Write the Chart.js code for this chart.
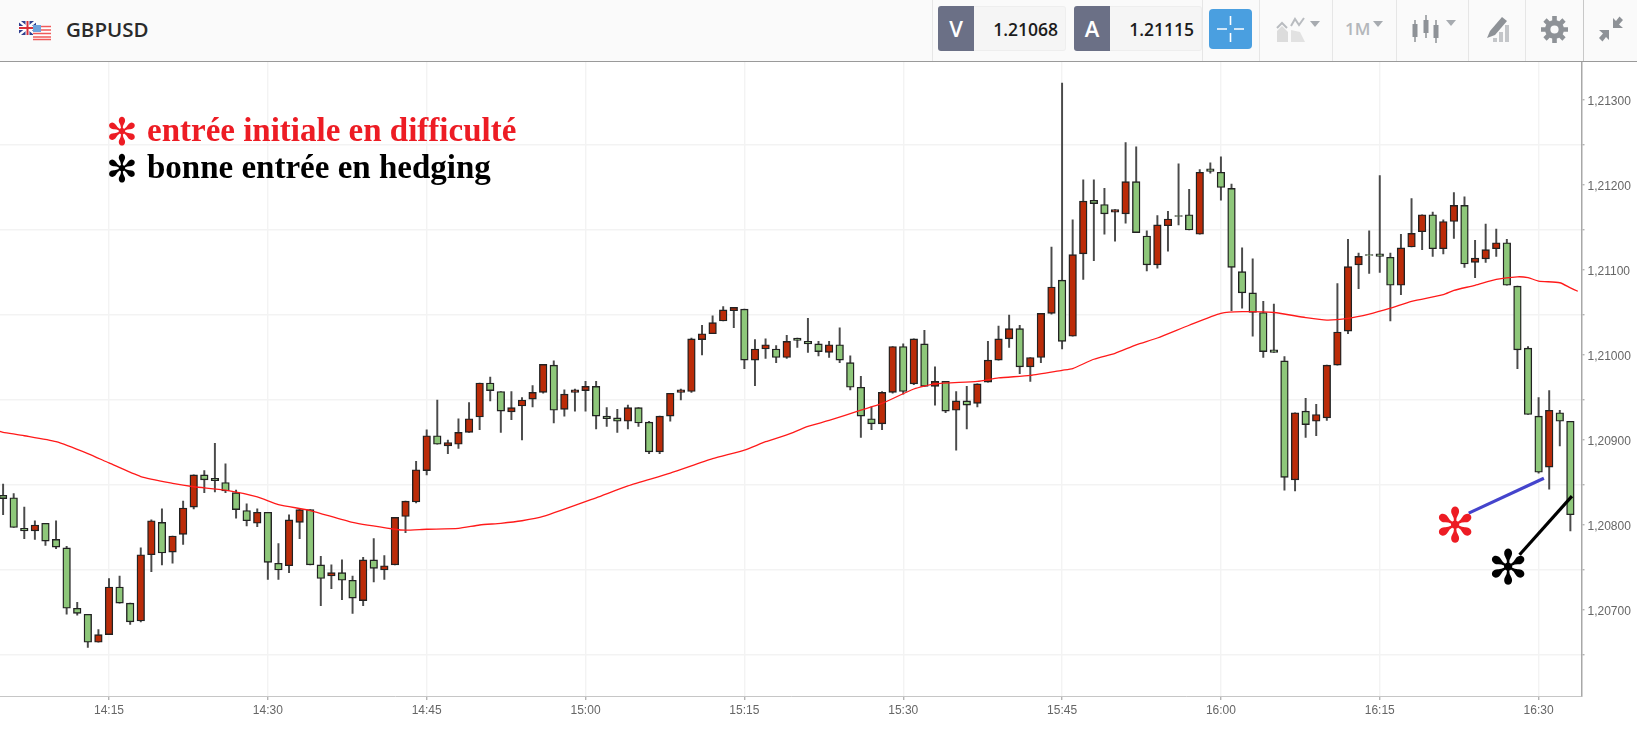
<!DOCTYPE html>
<html lang="fr">
<head>
<meta charset="utf-8">
<title>GBPUSD</title>
<script src="https://cdn.jsdelivr.net/npm/chart.js@4"></script>
<style>
    html, body { margin: 0; padding: 0; background: #fff; overflow: hidden; }
    #page { position: relative; width: 1637px; height: 731px; overflow: hidden; }
    #topbar { position: absolute; left: 0; top: 0; width: 1637px; height: 61px; background: #fafafa; border-bottom: 1px solid #9a9a9a; font-family: "Open Sans", sans-serif; }
    #topbar div, #topbar svg { position: absolute; }
    .sep { top: 0; width: 1px; height: 61px; background: #e6e6e6; }
    .symbol { left: 66px; top: 15px; font-size: 20.5px; font-weight: 600; color: #2a2a2a; line-height: 28px; }
    .tag { top: 6px; width: 36px; height: 45px; background: #6b7086; color: #fff; font-size: 22px; font-weight: 600; text-align: center; line-height: 45px; border-radius: 3px 0 0 3px; }
    .quote { top: 6px; height: 43px; background: #f5f5f5; border: 1px solid #eee; border-left: 0; color: #1c1c1c; font-size: 17.5px; font-weight: 600; text-align: right; line-height: 44px; padding-right: 7px; box-sizing: content-box; border-radius: 0 3px 3px 0; }
    .tf { left: 1345px; top: 16px; font-size: 17px; font-weight: 600; color: #b4b7bb; line-height: 26px; }
    #chart { position: absolute; left: 0; top: 62px; }
    .note { position: absolute; font-family: "Liberation Serif", serif; font-weight: bold; font-size: 33px; line-height: 36px; white-space: nowrap; }
    .star { position: absolute; font-family: "DejaVu Sans", sans-serif; font-weight: normal; line-height: 1; white-space: nowrap; }
</style>
</head>
<body>
<div id="page">
    <div id="topbar">
        <svg style="left:19px;top:20px" width="34" height="22" viewBox="0 0 34 22">
            <rect x="0" y="1" width="17" height="14" fill="#2f3f8f"/>
            <path d="M0 1L17 15M17 1L0 15" stroke="#fff" stroke-width="2.4"/>
            <path d="M8.5 1V15M0 8H17" stroke="#fff" stroke-width="4"/>
            <path d="M8.5 1V15M0 8H17" stroke="#d8303a" stroke-width="2"/>
            <rect x="14" y="5" width="18" height="15" fill="#fff"/>
            <path d="M14 6.5H32M14 10H32M14 13.5H32M14 17H32M14 19.5H32" stroke="#ef5a5a" stroke-width="1.5"/>
            <rect x="14" y="5" width="8" height="7" fill="#6fa3dc"/>
        </svg>
        <div class="symbol">GBPUSD</div>
        <div class="sep" style="left:932px"></div>
        <div class="tag" style="left:938px">V</div>
        <div class="quote" style="left:974px;width:84px">1.21068</div>
        <div class="tag" style="left:1074px">A</div>
        <div class="quote" style="left:1110px;width:84px">1.21115</div>
        <div class="sep" style="left:1202px"></div>
        <div style="left:1209px;top:9px;width:43px;height:40px;background:#4a9fe0;border-radius:4px"></div>
        <svg style="left:1209px;top:9px" width="43" height="40" viewBox="0 0 43 40">
            <path d="M21.5 7V16M21.5 24V33M8 20H18M25 20H35" stroke="#fff" stroke-width="1.6" fill="none"/>
        </svg>
        <div class="sep" style="left:1259px"></div>
        <svg style="left:1274px;top:16px" width="48" height="28" viewBox="0 0 48 28">
            <path d="M3 26V15L8 10L14 16V26Z" fill="#dcdcdc"/><path d="M17 26V14L26 16L31 26Z" fill="#e2e2e2"/>
            <path d="M3 12L8 7L13 12M17 10L21 3L25 9L30 2" stroke="#b9bcc0" stroke-width="2" fill="none"/>
            <path d="M36 5H46L41 11Z" fill="#a7abb0"/>
        </svg>
        <div class="sep" style="left:1332px"></div>
        <div class="tf">1M</div>
        <svg style="left:1372px;top:20px" width="12" height="8" viewBox="0 0 12 8"><path d="M1 1H11L6 7Z" fill="#a7abb0"/></svg>
        <div class="sep" style="left:1396px"></div>
        <svg style="left:1412px;top:14px" width="46" height="30" viewBox="0 0 46 30">
            <path d="M3 6V28M14 1V24M24 6V29" stroke="#8e9297" stroke-width="1.5"/>
            <rect x="0.5" y="10" width="5" height="13" fill="#8e9297"/><rect x="11.5" y="6" width="5" height="13" fill="#8e9297"/><rect x="21.5" y="11" width="5" height="13" fill="#8e9297"/>
            <path d="M34 6H44L39 12Z" fill="#a7abb0"/>
        </svg>
        <div class="sep" style="left:1468px"></div>
        <svg style="left:1485px;top:14px" width="26" height="30" viewBox="0 0 26 30">
            <path d="M2 24L5 17L17 3L22 7L10 21Z" fill="#8e9297"/>
            <path d="M8 28H12V24H8ZM14 28H18V18H14ZM20 28H24V11H20Z" fill="#c4c6c9"/>
        </svg>
        <div class="sep" style="left:1525px"></div>
        <svg style="left:1541px;top:16px" width="27" height="27" viewBox="0 0 27 27">
            <circle cx="13.5" cy="13.5" r="6.8" fill="none" stroke="#8e9297" stroke-width="5.4"/>
            <path d="M13.5 0V5M13.5 22V27M0 13.5H5M22 13.5H27M4 4L7.5 7.5M19.5 19.5L23 23M23 4L19.5 7.5M7.5 19.5L4 23" stroke="#8e9297" stroke-width="4.6"/>
        </svg>
        <div class="sep" style="left:1583px;background:#c8c8c8"></div>
        <svg style="left:1598px;top:15px" width="26" height="28" viewBox="0 0 26 28">
            <path d="M15 3V13H25L21 9.500L25 5L21.500 1.500L18 6Z" fill="#8e9297"/>
            <path d="M11 25V15H1L5 18.500L1 23L4.500 26.500L8 22Z" fill="#8e9297"/>
        </svg>
    </div>

    <canvas id="chart" width="1637" height="669"></canvas>

    <span class="star" style="left:106px;top:113px;font-size:38px;color:#ed1c24">&#x273B;</span>
    <span class="note" style="left:147px;top:112px;color:#ed1c24">entrée initiale en difficulté</span>
    <span class="star" style="left:106px;top:150px;font-size:38px;color:#000">&#x273B;</span>
    <span class="note" style="left:147px;top:149px;color:#000">bonne entrée en hedging</span>
    <span class="star" style="left:1435px;top:501px;font-size:48px;color:#ed1c24">&#x273B;</span>
    <span class="star" style="left:1488px;top:543px;font-size:48px;color:#000">&#x273B;</span>
</div>

<script>
// prices are in points (1 point = 0.00001), one candle per minute starting 14:05
const openPts = [
    120835, 120832, 120796, 120793, 120802, 120783, 120773, 120702, 120695, 120662,
    120671, 120727, 120708, 120687, 120765, 120803, 120768, 120789, 120821, 120859,
    120855, 120850, 120838, 120817, 120802, 120815, 120755, 120752, 120803, 120818,
    120753, 120740, 120744, 120735, 120711, 120759, 120747, 120753, 120810, 120827,
    120864, 120905, 120893, 120895, 120909, 120927, 120967, 120957, 120933, 120940,
    120948, 120956, 120988, 120936, 120956, 120958, 120963, 120928, 120926, 120922,
    120938, 120921, 120886, 120928, 120956, 120957, 121018, 121025, 121040, 121052,
    121054, 120994, 121007, 121007, 120997, 121020, 121016, 121013, 121003, 121012,
    120991, 120962, 120925, 120919, 120956, 121010, 120966, 121013, 120963, 120969,
    120935, 120946, 120943, 120968, 120994, 121019, 121031, 120986, 120997, 121049,
    121088, 121022, 121119, 121182, 121177, 121168, 121166, 121204, 121140, 121106,
    121152, 121164, 121165, 121142, 121219, 121215, 121196, 121098, 121073, 121050,
    121006, 120993, 120853, 120934, 120922, 120926, 120988, 121028, 121106, 121118,
    121119, 121115, 121082, 121127, 121145, 121165, 121125, 121157, 121176, 121109,
    121113, 121125, 121132, 121081, 121008, 120928, 120868, 120932, 120922
];
const closePts = [
    120831, 120797, 120793, 120800, 120781, 120774, 120702, 120696, 120662, 120671,
    120727, 120708, 120686, 120765, 120805, 120767, 120787, 120820, 120859, 120853,
    120852, 120840, 120818, 120805, 120815, 120756, 120747, 120806, 120818, 120753,
    120737, 120744, 120735, 120714, 120759, 120749, 120752, 120809, 120828, 120865,
    120905, 120895, 120897, 120909, 120925, 120967, 120958, 120934, 120938, 120947,
    120956, 120989, 120935, 120954, 120959, 120963, 120928, 120925, 120922, 120938,
    120920, 120886, 120928, 120955, 120959, 121019, 121025, 121038, 121053, 121056,
    120994, 121007, 121012, 120997, 121016, 121017, 121013, 121004, 121012, 120994,
    120962, 120928, 120919, 120956, 121010, 120957, 121019, 120963, 120969, 120934,
    120946, 120941, 120966, 120994, 121019, 121031, 120986, 120997, 121049, 121080,
    121016, 121118, 121181, 121178, 121166, 121171, 121204, 121144, 121106, 121153,
    121160, 121163, 121147, 121215, 121216, 121197, 121103, 121073, 121050, 121004,
    121003, 120856, 120932, 120918, 120930, 120988, 121027, 121104, 121116, 121117,
    121116, 121082, 121126, 121143, 121165, 121125, 121157, 121176, 121107, 121114,
    121124, 121132, 121082, 121006, 120930, 120862, 120935, 120922, 120812
];
const highPts = [
    120848, 120837, 120821, 120805, 120802, 120805, 120775, 120709, 120695, 120677,
    120737, 120740, 120708, 120773, 120806, 120819, 120787, 120828, 120859, 120864,
    120896, 120872, 120841, 120825, 120819, 120815, 120778, 120812, 120819, 120818,
    120763, 120753, 120759, 120740, 120762, 120784, 120764, 120809, 120828, 120875,
    120912, 120947, 120900, 120925, 120944, 120967, 120974, 120957, 120957, 120950,
    120964, 120989, 120993, 120959, 120960, 120969, 120969, 120938, 120936, 120941,
    120938, 120922, 120928, 120955, 120960, 121020, 121035, 121046, 121057, 121056,
    121054, 121018, 121019, 121011, 121023, 121020, 121043, 121016, 121016, 121032,
    120999, 120975, 120939, 120957, 121010, 121013, 121019, 121029, 120986, 120969,
    120957, 120963, 120966, 121016, 121034, 121047, 121035, 120997, 121049, 121127,
    121320, 121159, 121206, 121206, 121196, 121171, 121250, 121245, 121146, 121164,
    121169, 121225, 121195, 121218, 121226, 121233, 121201, 121126, 121113, 121063,
    121060, 120998, 120932, 120949, 120942, 120988, 121084, 121136, 121120, 121146,
    121211, 121120, 121142, 121184, 121165, 121168, 121159, 121191, 121186, 121135,
    121154, 121148, 121136, 121081, 121010, 120950, 120958, 120935, 120922
];
const lowPts = [
    120812, 120797, 120784, 120783, 120776, 120772, 120695, 120694, 120656, 120662,
    120671, 120708, 120683, 120686, 120745, 120753, 120755, 120777, 120819, 120838,
    120839, 120838, 120808, 120799, 120798, 120736, 120736, 120744, 120784, 120753,
    120705, 120725, 120712, 120696, 120705, 120733, 120736, 120753, 120791, 120826,
    120859, 120895, 120884, 120890, 120909, 120912, 120946, 120909, 120924, 120900,
    120939, 120955, 120920, 120928, 120934, 120934, 120913, 120916, 120909, 120913,
    120916, 120884, 120884, 120922, 120947, 120956, 121000, 121025, 121040, 121032,
    120984, 120964, 120996, 120991, 120996, 121009, 121003, 120999, 120997, 120991,
    120959, 120903, 120912, 120912, 120955, 120954, 120965, 120963, 120941, 120932,
    120888, 120913, 120939, 120968, 120994, 121009, 120978, 120969, 120991, 121048,
    121007, 121022, 121089, 121111, 121142, 121134, 121155, 121144, 121099, 121102,
    121122, 121153, 121147, 121142, 121214, 121182, 121052, 121055, 121022, 120997,
    121003, 120841, 120840, 120903, 120905, 120923, 120988, 121025, 121078, 121096,
    121097, 121040, 121071, 121127, 121124, 121116, 121119, 121137, 121103, 121091,
    121109, 121116, 121082, 120984, 120930, 120861, 120842, 120893, 120793
];

// moving average, read at these candle positions
const maIndex = [
    -0.3, 0, 2, 5, 8, 10, 13, 16, 18, 21, 24, 26, 29, 33, 37, 38, 40, 43, 45, 47, 49, 51,
    56, 59, 63, 67, 70, 72, 74, 76, 78, 81, 83, 86, 88, 92, 94, 97, 100, 101, 103, 105, 107, 109,
    112, 115, 117, 120, 123, 125, 127, 129, 131, 133, 136, 137, 139, 141, 143, 144, 145, 147, 148, 148.7
];
const maPts = [
    120910, 120909, 120905, 120898, 120884, 120873, 120857, 120849, 120845, 120841, 120833, 120824, 120817, 120803, 120795, 120794, 120795, 120796, 120800, 120802, 120805, 120810,
    120832, 120846, 120861, 120878, 120888, 120898, 120906, 120916, 120923, 120935, 120943, 120960, 120966, 120969, 120973, 120976, 120982, 120984, 120995, 121002, 121012, 121020,
    121035, 121049, 121051, 121050, 121044, 121041, 121043, 121048, 121055, 121063, 121071, 121076, 121082, 121089, 121092, 121091, 121087, 121085, 121079, 121075
];

// hand drawn arrows
const blueArrowIndex = [138.4, 145.5];
const blueArrowPts = [120814, 120855];
const blackArrowIndex = [143.2, 148.15];
const blackArrowPts = [120765, 120834];

const xTickIndex = [10, 25, 40, 55, 70, 85, 100, 115, 130, 145];
const xTickLabels = ['14:15', '14:30', '14:45', '15:00', '15:15', '15:30', '15:45', '16:00', '16:15', '16:30'];
const yTickValues = [120700, 120800, 120900, 121000, 121100, 121200, 121300];
const yTickLabels = ['1,20700', '1,20800', '1,20900', '1,21000', '1,21100', '1,21200', '1,21300'];
// the horizontal grid does not sit on the labelled prices
const yGridValues = [120647, 120747, 120847, 120947, 121047, 121147, 121247];

const colors = {
    up: '#bb2b08',
    down: '#8ec77a',
    border: '#222222',
    wick: '#4a4a4a',
    ma: '#ff1a1a',
    grid: '#f3f3f3',
    axis: '#b5b5b5',
    label: '#666666'
};

const bodies = openPts.map((o, i) => ({ x: i, y: [o, closePts[i]] }));
const wicks = highPts.map((h, i) => ({ x: i, y: [lowPts[i], h] }));
const bodyColors = openPts.map((o, i) => closePts[i] > o ? colors.up : colors.down);
const toPoints = (xs, ys) => xs.map((x, i) => ({ x: x, y: ys[i] }));

new Chart(document.getElementById('chart'), {
    type: 'bar',
    data: {
        datasets: [
            {
                type: 'line',
                data: toPoints(blueArrowIndex, blueArrowPts),
                borderColor: '#4444cc',
                borderWidth: 3.2,
                pointRadius: 0,
                order: -2
            },
            {
                type: 'line',
                data: toPoints(blackArrowIndex, blackArrowPts),
                borderColor: '#000000',
                borderWidth: 3.2,
                pointRadius: 0,
                order: -1
            },
            {
                type: 'line',
                data: toPoints(maIndex, maPts),
                borderColor: colors.ma,
                borderWidth: 1.3,
                pointRadius: 0,
                tension: 0.2,
                order: 0
            },
            {
                data: bodies,
                backgroundColor: bodyColors,
                borderColor: colors.border,
                borderWidth: 1.4,
                borderSkipped: false,
                barThickness: 7.6,
                grouped: false,
                order: 1
            },
            {
                data: wicks,
                backgroundColor: colors.wick,
                borderWidth: 0,
                barThickness: 1.3,
                grouped: false,
                order: 2
            }
        ]
    },
    options: {
        responsive: false,
        animation: false,
        layout: { padding: 0, autoPadding: false },
        plugins: {
            legend: { display: false },
            tooltip: { enabled: false }
        },
        scales: {
            x: {
                type: 'linear',
                offset: false,
                min: -0.293,
                max: 149.05,
                afterBuildTicks: (scale) => { scale.ticks = xTickIndex.map(v => ({ value: v })); },
                afterFit: (scale) => {
                    scale.height = 35;
                    scale.paddingLeft = 0;
                    scale.paddingRight = 0;
                },
                border: { color: '#c6c6c6', width: 1 },
                grid: { offset: false, color: colors.grid, lineWidth: 1.4, tickLength: 4, tickColor: colors.axis },
                ticks: {
                    autoSkip: false,
                    maxRotation: 0,
                    padding: 3,
                    color: colors.label,
                    font: { family: "'Liberation Sans', sans-serif", size: 12 },
                    callback: (v) => xTickLabels[xTickIndex.indexOf(v)]
                }
            },
            y: {
                position: 'right',
                min: 120598.8,
                max: 121344.7,
                afterBuildTicks: (scale) => {
                    scale.ticks = yGridValues.concat(yTickValues).sort((a, b) => a - b).map(v => ({ value: v }));
                },
                afterFit: (scale) => {
                    // no room kept above the plot for the top label
                    scale.width = 55.5;
                    scale.paddingTop = 0;
                    scale.paddingBottom = 0;
                },
                border: { color: '#a8a8a8', width: 1.5 },
                grid: {
                    color: (ctx) => yGridValues.includes(ctx.tick.value) ? colors.grid : 'transparent',
                    lineWidth: 1.4,
                    tickLength: 3,
                    tickColor: colors.axis
                },
                ticks: {
                    autoSkip: false,
                    padding: 3,
                    labelOffset: 2,
                    color: colors.label,
                    font: { family: "'Liberation Sans', sans-serif", size: 12 },
                    callback: (v) => {
                        const k = yTickValues.indexOf(v);
                        return k < 0 ? '' : yTickLabels[k];
                    }
                }
            }
        }
    }
});
</script>
</body>
</html>
